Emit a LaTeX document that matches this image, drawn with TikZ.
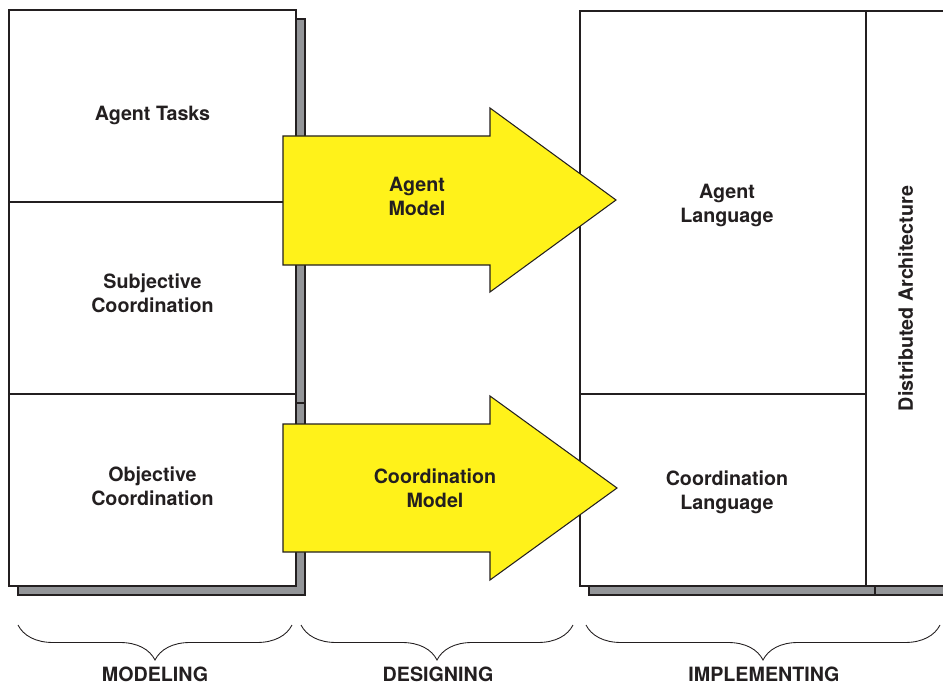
\documentclass[tikz,border=0pt]{standalone}
\usepackage{fontspec}
\setmainfont{TeX Gyre Heros}
\usetikzlibrary{positioning}
\usetikzlibrary{shadows}
\usetikzlibrary{decorations.pathreplacing}
\definecolor{ink}{HTML}{231F20}
\definecolor{shade}{HTML}{939598}
\definecolor{arrowyellow}{HTML}{FFF21A}

\begin{document}
\begin{tikzpicture}[x=0.02cm,y=-0.02cm,
  every node/.style={font=\fontsize{11.2}{13.6}\selectfont\bfseries,text=ink,align=center},
  box/.style={draw=ink,fill=white,line width=0.9pt,inner sep=0pt,
    copy shadow={shadow xshift=0.18cm,shadow yshift=-0.18cm,fill=shade,draw=ink,line width=0.9pt}},
  bigarrow/.style={draw=ink,fill=arrowyellow,line width=0.6pt},
  phase/.style={decorate,decoration={brace,mirror,amplitude=0.7cm},draw=ink,line width=0.5pt}]
  \useasboundingbox (0,0) rectangle (943,682);
  % modeling column
  \node[box,minimum width=5.74cm,minimum height=3.84cm,
    label={[yshift=-0.18cm]center:Agent Tasks}] (tasks) at (152.5,106) {};
  \node[box,minimum width=5.74cm,minimum height=3.84cm,
    label={[yshift=0.1cm]center:Subjective\\Coordination}] (subj) at (152.5,298) {};
  \node[box,minimum width=5.74cm,minimum height=3.84cm,
    label={[yshift=0.08cm]center:Objective\\Coordination}] (obj) at (152.5,490) {};
  % implementing column
  \node[box,minimum width=5.72cm,minimum height=7.66cm,
    label={[xshift=0.08cm,yshift=-0.06cm]center:Agent\\Language}] (agentlang) at (723,202.5) {};
  \node[box,minimum width=5.72cm,minimum height=3.84cm,
    label={[xshift=0.08cm,yshift=-0.04cm]center:Coordination\\Language}] (coordlang) at (723,490) {};
  \node[box,minimum width=1.58cm,minimum height=11.5cm,
    label={[rotate=90]center:Distributed Architecture}] (distrib) at (905.5,298.5) {};
  % designing arrows
  \draw[bigarrow] (283,136) -- (490,136) -- (490,108) -- (616,200) -- (490,292) -- (490,265) -- (283,265) -- cycle;
  \node (agentmodel) at (417,196) {Agent\\Model};
  \draw[bigarrow] (283,424) -- (490,424) -- (490,396) -- (617,488) -- (490,580) -- (490,552) -- (283,552) -- cycle;
  \node (coordmodel) at (435,488) {Coordination\\Model};
  % phases
  \coordinate (mod1) at (18,625);
  \coordinate (mod2) at (292,625);
  \coordinate (des1) at (301,625);
  \coordinate (des2) at (573,625);
  \coordinate (imp1) at (586,625);
  \coordinate (imp2) at (940,625);
  \draw[phase] (mod1) -- (mod2);
  \draw[phase] (des1) -- (des2);
  \draw[phase] (imp1) -- (imp2);
  \node (modeling) at (155,674) {MODELING};
  \node (designing) at (438,674) {DESIGNING};
  \node (implementing) at (764,674) {IMPLEMENTING};
\end{tikzpicture}
\end{document}
